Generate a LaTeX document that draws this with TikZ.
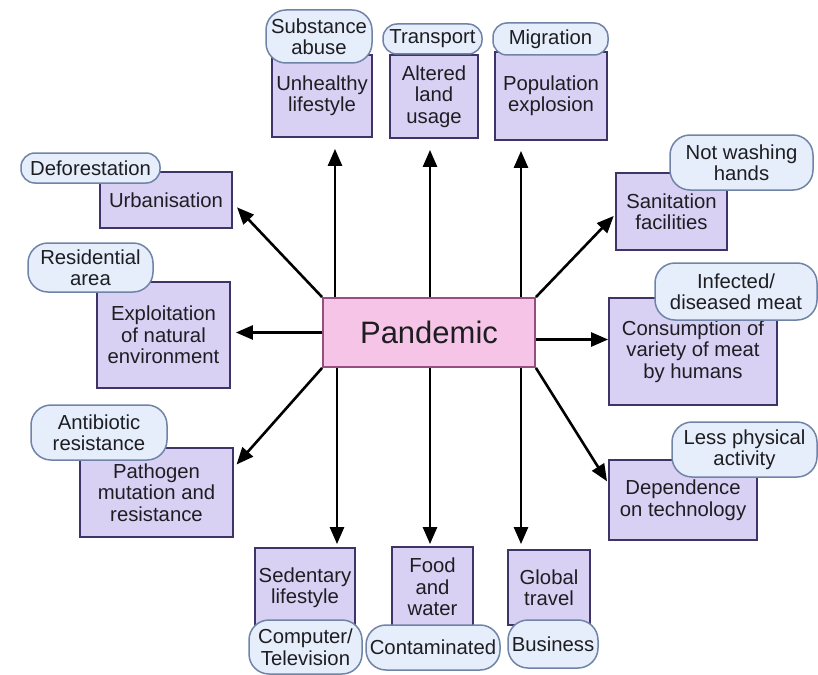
\documentclass[tikz,border=0pt]{standalone}
\usepackage{fontspec}
\setmainfont{Liberation Sans}
\usetikzlibrary{arrows.meta,calc}
\definecolor{boxfill}{RGB}{216,209,244}
\definecolor{boxline}{RGB}{62,52,104}
\definecolor{bubfill}{RGB}{229,238,250}
\definecolor{bubline}{RGB}{112,132,168}
\definecolor{pandfill}{RGB}{246,196,230}
\definecolor{pandline}{RGB}{150,78,128}
\definecolor{ink}{RGB}{30,30,34}
\tikzset{
  cbox/.style={draw=boxline, fill=boxfill, line width=1.8pt, inner sep=0pt,
    align=center, text=ink, font=\fontsize{20.3}{21.5}\selectfont},
  bub/.style={draw=bubline, fill=bubfill, line width=1.5pt, inner sep=0pt,
    rounded corners=14pt, align=center, text=ink, font=\fontsize{20.3}{21.5}\selectfont},
  tallbub/.style={bub, rounded corners=20pt},
  pandbox/.style={draw=pandline, fill=pandfill, line width=1.8pt, inner sep=0pt,
    text=ink, font=\fontsize{31}{33}\selectfont},
  arr/.style={draw=black, line width=2.6pt, -{Triangle[length=17pt,width=14pt]}},
}
\newcommand{\bx}[6]{\node[#1, minimum width=#4pt, minimum height=#5pt] (#2) at (#3) {#6};}
\begin{document}
\begin{tikzpicture}[x=1pt,y=-1pt]
\clip (0,0) rectangle (818,674);
\fill[white] (0,0) rectangle (818,674);

% central node
\bx{pandbox}{pand}{429,332.5}{212}{69}{Pandemic}

% cause boxes
\bx{cbox}{unh}{322,96}{100}{82}{Unhealthy\\lifestyle}
\bx{cbox}{alt}{434,96.5}{88}{83}{Altered\\land\\usage}
\bx{cbox}{pop}{551,96}{112}{88}{Population\\explosion}
\bx{cbox}{urb}{166,200}{132}{56}{Urbanisation}
\bx{cbox}{expl}{163.5,335}{133}{106}{Exploitation\\of natural\\environment}
\bx{cbox}{path}{156.5,492.5}{153}{89}{Pathogen\\mutation and\\resistance}
\bx{cbox}{sed}{305,587.5}{100}{79}{Sedentary\\lifestyle}
\bx{cbox}{food}{432.5,587}{81}{80}{Food\\and\\water}
\bx{cbox}{glob}{549,587.5}{82}{75}{Global\\travel}
\bx{cbox}{dep}{683,500}{148}{80}{Dependence\\on technology}
\bx{cbox}{cons}{693,351.5}{168}{107}{Consumption of\\variety of meat\\by humans}
\bx{cbox}{san}{671.5,211.5}{111}{77}{Sanitation\\facilities}

% detail bubbles
\bx{tallbub}{subs}{319,36.5}{106}{53}{Substance\\abuse}
\bx{bub}{trans}{432.5,39}{99}{30}{Transport}
\bx{bub}{migr}{550.5,39}{115}{32}{Migration}
\bx{bub}{defo}{90.5,168}{139}{30}{Deforestation}
\bx{tallbub}{resi}{90.5,267.5}{125}{49}{Residential\\area}
\bx{tallbub}{anti}{99,432.5}{136}{55}{Antibiotic\\resistance}
\bx{tallbub}{comp}{305.5,647}{113}{54}{Computer/\\Television}
\bx{tallbub}{cont}{433,647.5}{134}{45}{Contaminated}
\bx{tallbub}{busi}{553,644}{90}{48}{Business}
\bx{tallbub}{lessp}{744.5,449.5}{145}{55}{Less physical\\activity}
\bx{tallbub}{infe}{736,291.5}{162}{57}{Infected/\\diseased meat}
\bx{tallbub}{notw}{741.5,162.5}{143}{55}{Not washing\\hands}

% connectors
\draw[arr, shorten >=11pt] (pand.north -| 335,0) -- (unh.south -| 335,0);
\draw[arr, shorten >=11pt] (pand.north -| 430,0) -- (alt.south -| 430,0);
\draw[arr, shorten >=10pt] (pand.north -| 521,0) -- (pop.south -| 521,0);
\draw[arr, shorten >=3pt] (pand.south -| 337,0) -- (sed.north -| 337,0);
\draw[arr, shorten >=2pt] (pand.south -| 430,0) -- (food.north -| 430,0);
\draw[arr, shorten >=5pt] (pand.south -| 521,0) -- (glob.north -| 521,0);
\draw[arr, shorten >=6pt] (pand.north west) -- ([yshift=-3pt]urb.east);
\draw[arr, shorten >=2pt] (pand.north east) -- ([yshift=-3pt]san.west);
\draw[arr, shorten >=5pt] (pand.west) -- (pand.west -| expl.east);
\coordinate (pe) at ([yshift=-7pt]pand.east);
\draw[arr] (pe) -- (pe -| cons.west);
\draw[arr, shorten >=4pt] (pand.south west) -- ([yshift=25pt]path.east);
\draw[arr, shorten >=2pt] (pand.south east) -- ([yshift=17pt]dep.west);
\end{tikzpicture}
\end{document}
